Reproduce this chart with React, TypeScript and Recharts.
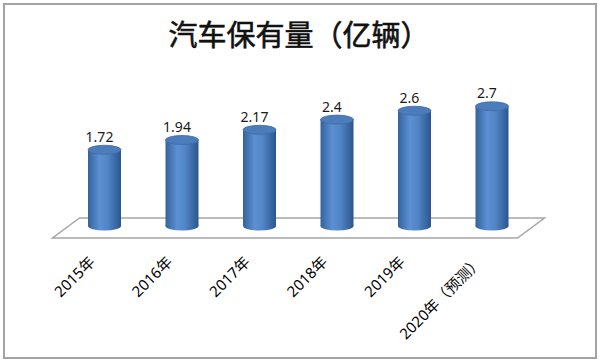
import { BarChart, Bar, XAxis, YAxis, ReferenceArea, LabelList } from 'recharts';

const years = ['2015年', '2016年', '2017年', '2018年', '2019年', '2020年（预测）'];
const vehicles = [1.72, 1.94, 2.17, 2.4, 2.6, 2.7];

const chartData = years.map((year, i) => ({ year, value: vehicles[i] }));

const FONT = '"Noto Sans", "Noto Sans CJK SC", sans-serif';

// cylinder: gradient body, rounded bottom, flat top ellipse
function Cylinder(props: any) {
  const { x, y, width, height } = props;
  const cx = x + width / 2;
  const rx = width / 2;
  const ry = 4.5;
  return (
    <g>
      <rect x={x} y={y} width={width} height={height} fill="url(#cylBody)" />
      <ellipse cx={cx} cy={y + height} rx={rx} ry={ry} fill="url(#cylBody)" />
      <ellipse cx={cx} cy={y} rx={rx} ry={ry} fill="#4c7cba" stroke="#3f6ca7" strokeWidth={0.8} />
    </g>
  );
}

// 3d floor under the bars
function Floor(props: any) {
  const { x, y, width, height } = props;
  const base = y + height;
  const dx = 13.5;
  const back = base - 8;
  const front = base + 12;
  const pts = [
    [x + dx, back],
    [x + width + dx, back],
    [x + width - dx, front],
    [x - dx, front],
  ].map(p => p.join(',')).join(' ');
  return <polygon points={pts} fill="#fff" stroke="#a6a6a6" strokeWidth={1.5} />;
}

function YearTick(props: any) {
  const { x, y, payload } = props;
  const tx = x - 9;
  const ty = y + 29;
  return (
    <text
      x={tx}
      y={ty}
      transform={`rotate(-45 ${tx} ${ty})`}
      textAnchor="end"
      fontSize={15}
      fontFamily={FONT}
      fill="#000"
    >
      {payload.value}
    </text>
  );
}

function ValueLabel(props: any) {
  const { x, y, width, value } = props;
  return (
    <text
      x={x + width / 2 - 5}
      y={y - 8}
      textAnchor="middle"
      fontSize={14}
      fontFamily={FONT}
      fill="#1a1a1a"
    >
      {value}
    </text>
  );
}

export default function App() {
  return (
    <div style={{ position: 'absolute', left: 0, top: 0, width: 600, height: 362, background: '#fff' }}>
      <div
        style={{
          position: 'absolute',
          left: 3,
          top: 3,
          width: 590,
          height: 352,
          border: '2px solid #a3a3a3',
        }}
      />
      <div
        style={{
          position: 'absolute',
          left: 4,
          top: 15,
          width: 590,
          textAlign: 'center',
          fontSize: 29,
          lineHeight: '36px',
          fontFamily: '"Noto Sans CJK SC", sans-serif',
          color: '#111',
          WebkitTextStroke: '0.6px #111',
        }}
      >
        汽车保有量（亿辆）
      </div>
      <div style={{ position: 'absolute', left: 0, top: 0 }}>
        <BarChart
          width={600}
          height={362}
          data={chartData}
          margin={{ top: 93, right: 69, bottom: 36, left: 66 }}
          barSize={33}
        >
          <defs>
            <linearGradient id="cylBody" x1="0" y1="0" x2="1" y2="0">
              <stop offset="0%" stopColor="#34629d" />
              <stop offset="35%" stopColor="#5c90d2" />
              <stop offset="60%" stopColor="#5185c5" />
              <stop offset="100%" stopColor="#2c558e" />
            </linearGradient>
          </defs>
          <XAxis
            dataKey="year"
            axisLine={false}
            tickLine={false}
            interval={0}
            height={100}
            tick={<YearTick />}
          />
          <YAxis hide domain={[0, 3]} />
          <ReferenceArea y1={0} y2={3} shape={<Floor />} />
          <Bar dataKey="value" shape={<Cylinder />} isAnimationActive={false}>
            <LabelList dataKey="value" content={<ValueLabel />} />
          </Bar>
        </BarChart>
      </div>
    </div>
  );
}
